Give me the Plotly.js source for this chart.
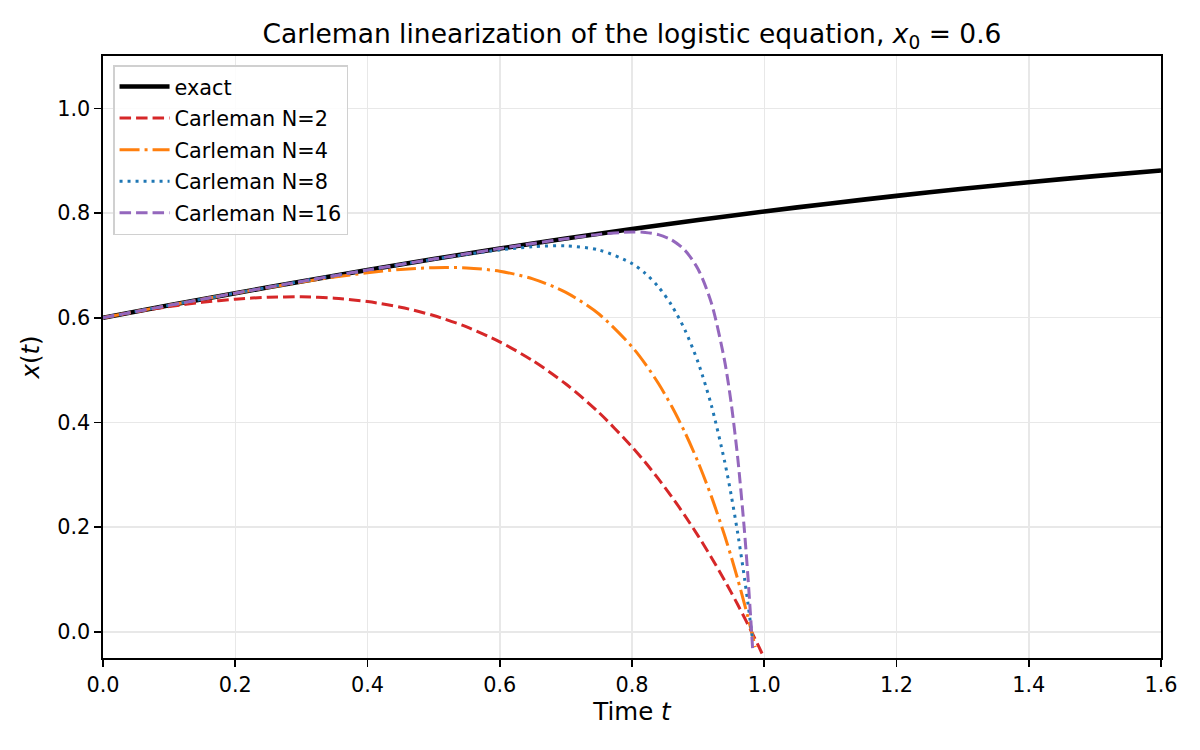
<!DOCTYPE html>
<html>
<head>
<meta charset="utf-8">
<script src="https://cdn.plot.ly/plotly-3.0.1.min.js"></script>
<style>
  html, body { margin: 0; padding: 0; background: #fff; }
  #chart { width: 1200px; height: 750px; }
</style>
</head>
<body>
<div id="chart"></div>
<script>
// exact solution
var tExact = [0, 0.1, 0.2, 0.3, 0.4, 0.5, 0.6, 0.7, 0.8, 0.9, 1.0, 1.1, 1.2, 1.3, 1.4, 1.5, 1.6];
var xExact = [0.6, 0.62374, 0.64691, 0.66940, 0.69114, 0.71207, 0.73213, 0.75129, 0.76949, 0.78675,
              0.80305, 0.81839, 0.83278, 0.84625, 0.85881, 0.87051, 0.88137];

// Carleman truncations (null = off the bottom of the plot)
var tCarl = [0, 0.05, 0.1, 0.15, 0.2, 0.25, 0.3, 0.35, 0.4, 0.45, 0.5, 0.55, 0.6, 0.65, 0.7, 0.75,
             0.8, 0.82, 0.84, 0.86, 0.88, 0.9, 0.92, 0.94, 0.95, 0.96, 0.97, 0.975, 0.98, 0.9825,
             0.9865, 0.9905, 0.9945, 0.9985];
var xN2 = [0.6, 0.61136, 0.62126, 0.62941, 0.63549, 0.63912, 0.63990, 0.63735, 0.63095, 0.62012,
           0.60419, 0.58242, 0.55399, 0.51797, 0.47334, 0.41891, 0.35342, 0.32382, 0.29211, 0.25820,
           0.22199, 0.18334, 0.14217, 0.09832, 0.07536, 0.05168, 0.02728, 0.01479, 0.00212, -0.00419,
           -0.01457, -0.0250, -0.03569, -0.0465];
var xN4 = [0.6, 0.61194, 0.62373, 0.63534, 0.64671, 0.65768, 0.66810, 0.67765, 0.68590, 0.69222,
           0.69573, 0.69515, 0.68879, 0.67427, 0.64846, 0.60707, 0.54452, 0.51199, 0.47434, 0.43093,
           0.38107, 0.32396, 0.25875, 0.18446, 0.14357, 0.10001, 0.05362, 0.02931, 0.00423, -0.00839,
           -0.0294, null, null, null];
var xN8 = [0.6, 0.61194, 0.62374, 0.63540, 0.64691, 0.65824, 0.66940, 0.68036, 0.69110, 0.70158,
           0.71169, 0.72120, 0.72956, 0.73567, 0.73721, 0.72955, 0.70372, 0.68488, 0.65893, 0.62377,
           0.57677, 0.51453, 0.43276, 0.32603, 0.26122, 0.18747, 0.10365, 0.05755, 0.00844, -0.01688,
           null, null, null, null];
var xN16 = [0.6, 0.61194, 0.62374, 0.63540, 0.64691, 0.65824, 0.66940, 0.68037, 0.69114, 0.70171,
            0.71207, 0.72221, 0.73212, 0.74177, 0.75103, 0.75925, 0.76387, 0.76297, 0.75871, 0.74868,
            0.72889, 0.69256, 0.62848, 0.51808, 0.43660, 0.33083, 0.19383, 0.11096, 0.01680, -0.0341,
            null, null, null, null];

var xTicks = [0, 0.2, 0.4, 0.6, 0.8, 1.0, 1.2, 1.4, 1.6];
var yTicks = [0, 0.2, 0.4, 0.6, 0.8, 1.0];

var font = "DejaVu Sans, sans-serif";

var data = [
  { x: tExact, y: xExact, name: "exact", type: "scatter", mode: "lines", legendgroup: "a",
    line: { color: "#000000", width: 4.6, shape: "spline", smoothing: 0.8 } },
  { x: tCarl, y: xN2, name: "Carleman N=2", type: "scatter", mode: "lines", legendgroup: "b",
    line: { color: "#d62728", width: 3, dash: "11.5px,5px", shape: "spline", smoothing: 0.8 } },
  { x: tCarl, y: xN4, name: "Carleman N=4", type: "scatter", mode: "lines", legendgroup: "c",
    line: { color: "#ff7f0e", width: 3, dash: "20px,5px,3px,5px", shape: "spline", smoothing: 0.8 } },
  { x: tCarl, y: xN8, name: "Carleman N=8", type: "scatter", mode: "lines", legendgroup: "d",
    line: { color: "#1f77b4", width: 3, dash: "3px,5px", shape: "spline", smoothing: 0.8 } },
  { x: tCarl, y: xN16, name: "Carleman N=16", type: "scatter", mode: "lines", legendgroup: "e",
    line: { color: "#9467bd", width: 3, dash: "11.5px,5px", shape: "spline", smoothing: 0.8 } }
];

var layout = {
  width: 1200,
  height: 750,
  margin: { l: 103, r: 39, t: 56, b: 92 },
  paper_bgcolor: "#ffffff",
  plot_bgcolor: "#ffffff",
  font: { family: font, size: 20.8, color: "#000000" },
  title: {
    text: "Carleman linearization of the logistic equation, <i>x</i><sub>0</sub> = 0.6",
    font: { family: font, size: 26.5, color: "#000000" },
    x: 0.5, xref: "paper", y: 1 - 34 / 750, yref: "container", yanchor: "middle"
  },
  xaxis: {
    range: [0, 1.6],
    tickvals: xTicks,
    ticktext: xTicks.map(function (v) { return v.toFixed(1); }),
    ticks: "outside", ticklen: 7, tickwidth: 1.6, tickcolor: "#000",
    showline: true, linecolor: "#000", linewidth: 1.6, mirror: true,
    showgrid: true, gridcolor: "#e8e8e8", gridwidth: 1.5,
    zeroline: false,
    tickfont: { family: font, size: 20.8 },
    title: { text: "Time <i>t</i>", font: { family: font, size: 24.5 }, standoff: 4 }
  },
  yaxis: {
    range: [-0.05, 1.1],
    tickvals: yTicks,
    ticktext: yTicks.map(function (v) { return v.toFixed(1); }),
    ticks: "outside", ticklen: 7, tickwidth: 1.6, tickcolor: "#000",
    showline: true, linecolor: "#000", linewidth: 1.6, mirror: true,
    showgrid: true, gridcolor: "#e8e8e8", gridwidth: 1.5,
    zeroline: false,
    tickfont: { family: font, size: 20.8 },
    title: { text: "<i>x</i>(<i>t</i>)", font: { family: font, size: 24.5 }, standoff: 10 }
  },
  showlegend: true,
  legend: {
    x: 0.0095, y: 0.985, xanchor: "left", yanchor: "top",
    bgcolor: "rgba(255,255,255,0.85)",
    bordercolor: "#d0d0d0", borderwidth: 1.5,
    font: { family: font, size: 20.8 },
    traceorder: "grouped",
    tracegroupgap: 1.5,
    itemwidth: 50
  }
};

Plotly.newPlot("chart", data, layout, { displayModeBar: false, staticPlot: true });
</script>
</body>
</html>
